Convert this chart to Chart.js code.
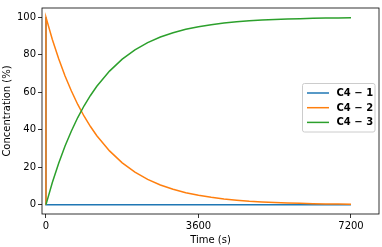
<!DOCTYPE html>
<html>
<head>
<meta charset="utf-8">
<script src="https://cdn.jsdelivr.net/npm/chart.js@4.4.1/dist/chart.umd.min.js"></script>
<style>
  html, body { margin: 0; padding: 0; background: #fff; }
  #wrap { width: 382px; height: 247px; }
</style>
</head>
<body>
<div id="wrap"><canvas id="kinChart"></canvas></div>
<script>
// time points (s) - the first step is instantaneous at t = 0
const times = [0, 0, 150, 300, 450, 600, 750, 900, 1050, 1200, 1500, 1800, 2100, 2400, 2700, 3000, 3300,
    3600, 3900, 4200, 4500, 4800, 5100, 5400, 5700, 6000, 6300, 6600, 6900, 7200];

const seriesNames = ['C4 \u2212 1', 'C4 \u2212 2', 'C4 \u2212 3'];
const seriesColors = ['#1f77b4', '#ff7f0e', '#2ca02c'];

const c4_1 = [100, 0, 0, 0, 0, 0, 0, 0, 0, 0, 0, 0, 0, 0, 0, 0, 0,
    0, 0, 0, 0, 0, 0, 0, 0, 0, 0, 0, 0, 0];
const c4_2 = [0, 100, 88.2, 77.9, 68.7, 60.7, 53.5, 47.2, 41.7, 36.8, 28.7, 22.3, 17.4, 13.5, 10.5, 8.2, 6.4,
    5.0, 3.9, 3.0, 2.4, 1.8, 1.4, 1.1, 0.9, 0.7, 0.5, 0.4, 0.3, 0.2];
const c4_3 = [0, 0, 11.8, 22.1, 31.3, 39.3, 46.5, 52.8, 58.3, 63.2, 71.3, 77.7, 82.6, 86.5, 89.5, 91.8, 93.6,
    95.0, 96.1, 97.0, 97.6, 98.2, 98.6, 98.9, 99.1, 99.3, 99.5, 99.6, 99.7, 99.8];

const xTicks = [0, 3600, 7200];
const yTicks = [0, 20, 40, 60, 80, 100];

const FONT = "'DejaVu Sans', sans-serif";

document.addEventListener("DOMContentLoaded", () => {
    initChart();
});

function toPoints(values) {
    return values.map((v, i) => ({ x: times[i], y: v }));
}

// frame around the plot area (matplotlib-style spines)
const framePlugin = {
    id: 'frame',
    afterDatasetsDraw(chart) {
        const { ctx, chartArea: a } = chart;
        ctx.save();
        ctx.strokeStyle = '#000';
        ctx.lineWidth = 0.8;
        ctx.strokeRect(a.left, a.top, a.right - a.left, a.bottom - a.top);
        ctx.restore();
    }
};

// legend box at the right, middle of the axes
const legendPlugin = {
    id: 'mplLegend',
    afterDraw(chart) {
        const { ctx } = chart;
        const x0 = 302.5, y0 = 83.5, w = 72.5, h = 48.5;
        ctx.save();
        ctx.fillStyle = 'rgba(255,255,255,0.8)';
        ctx.strokeStyle = '#cccccc';
        ctx.lineWidth = 1;
        ctx.beginPath();
        ctx.roundRect(x0, y0, w, h, 2);
        ctx.fill();
        ctx.stroke();
        ctx.font = "bold 10px " + FONT;
        ctx.textBaseline = 'middle';
        chart.data.datasets.forEach((ds, i) => {
            const y = 93 + i * 14.7;
            ctx.strokeStyle = ds.borderColor;
            ctx.lineWidth = 1.5;
            ctx.beginPath();
            ctx.moveTo(307, y);
            ctx.lineTo(329, y);
            ctx.stroke();
            ctx.fillStyle = '#000';
            ctx.fillText(ds.label, 336.5, y + 0.5);
        });
        ctx.restore();
    }
};

function initChart() {
    const ctx = document.getElementById("kinChart");
    if (!ctx) return;

    new Chart(ctx, {
        type: 'line',
        data: {
            // higher order is drawn first, so C4-1 sits underneath like in matplotlib
            datasets: [
                { label: seriesNames[0], data: toPoints(c4_1), borderColor: seriesColors[0], order: 3 },
                { label: seriesNames[1], data: toPoints(c4_2), borderColor: seriesColors[1], order: 2 },
                { label: seriesNames[2], data: toPoints(c4_3), borderColor: seriesColors[2], order: 1 }
            ].map(d => Object.assign(d, {
                borderWidth: 1.5,
                pointRadius: 0,
                tension: 0,
                fill: false
            }))
        },
        options: {
            responsive: true,
            maintainAspectRatio: false,
            animation: false,
            devicePixelRatio: 1,
            layout: { padding: { top: 1.5, right: 3, left: 0, bottom: 0 } },
            plugins: {
                legend: { display: false },
                tooltip: { enabled: false }
            },
            scales: {
                x: {
                    type: 'linear',
                    min: -94,
                    max: 7861,
                    afterBuildTicks: s => { s.ticks = xTicks.map(v => ({ value: v })); },
                    afterFit: s => { s.height = 33; },
                    grid: {
                        display: true,
                        drawOnChartArea: false,
                        tickLength: 4,
                        tickColor: '#000',
                        tickWidth: 0.8
                    },
                    border: { display: false },
                    ticks: {
                        color: '#000',
                        font: { family: FONT, size: 10 },
                        padding: 2,
                        maxRotation: 0,
                        autoSkip: false,
                        callback: v => String(v)
                    },
                    title: {
                        display: true,
                        text: 'Time (s)',
                        color: '#000',
                        font: { family: FONT, size: 10 },
                        padding: { top: 0, bottom: 1 }
                    }
                },
                y: {
                    min: -5,
                    max: 105,
                    afterBuildTicks: s => { s.ticks = yTicks.map(v => ({ value: v })); },
                    afterFit: s => { s.width = 42; },
                    grid: {
                        display: true,
                        drawOnChartArea: false,
                        tickLength: 4,
                        tickColor: '#000',
                        tickWidth: 0.8
                    },
                    border: { display: false },
                    ticks: {
                        color: '#000',
                        font: { family: FONT, size: 10 },
                        padding: 2,
                        callback: v => String(v)
                    },
                    title: {
                        display: true,
                        text: 'Concentration (%)',
                        color: '#000',
                        font: { family: FONT, size: 10 },
                        padding: { top: 1, bottom: 0 }
                    }
                }
            }
        },
        plugins: [framePlugin, legendPlugin]
    });
}
</script>
</body>
</html>
